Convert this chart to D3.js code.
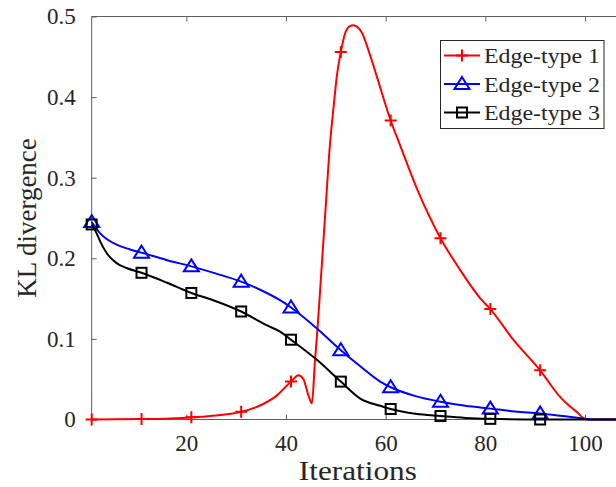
<!DOCTYPE html>
<html>
<head>
<meta charset="utf-8">
<script src="https://cdn.jsdelivr.net/npm/d3@7"></script>
<style>
  html, body { margin: 0; padding: 0; background: #fff; }
  svg { display: block; }
</style>
</head>
<body>
<svg id="chart" width="616" height="487"></svg>
<script>
// ---------- data ----------
const seriesNames = ["Edge-type 1", "Edge-type 2", "Edge-type 3"];
const markerIters = [1, 11, 21, 31, 41, 51, 61, 71, 81, 91];

const edge1Iter = [1, 6, 11, 16, 21, 26, 31, 35, 38, 41, 42.5, 43.5, 44.5, 45.2, 45.8, 46.3, 47, 47.9, 48.8, 49.5, 50.2, 51, 51.8, 52.8, 53.5, 55.2, 56.5, 58.2, 61, 62.9, 66.5, 71, 74.9, 79.3, 81, 85.6, 91, 95, 97, 98.3, 99.7, 100.5, 107];
const edge1Val  = [0, 0.0002, 0.0005, 0.001, 0.0027, 0.005, 0.0095, 0.018, 0.029, 0.047, 0.055, 0.050, 0.030, 0.020, 0.072, 0.111, 0.175, 0.258, 0.34, 0.385, 0.426, 0.456, 0.478, 0.488, 0.489, 0.480, 0.459, 0.426, 0.371, 0.340, 0.283, 0.225, 0.186, 0.148, 0.137, 0.099, 0.061, 0.028, 0.016, 0.0097, 0.0015, 0, 0];

const edge2Iter = [1, 2.7, 5.3, 8.7, 11, 16, 21, 26, 31, 34.8, 38.8, 41, 46.2, 51, 54.9, 58.9, 61, 66, 71, 76, 81, 86, 91, 96, 100, 101, 107];
const edge2Val  = [0.245, 0.231, 0.219, 0.211, 0.207, 0.198, 0.190, 0.181, 0.171, 0.161, 0.148, 0.139, 0.113, 0.086, 0.066, 0.047, 0.040, 0.029, 0.022, 0.017, 0.0135, 0.010, 0.0075, 0.004, 0.001, 0, 0];

const edge3Iter = [1, 2, 2.7, 4, 6, 8, 11, 16, 21, 25.4, 31, 36.1, 38.8, 41, 46.2, 51, 54.9, 58.9, 61, 66, 71, 76, 81, 91, 107];
const edge3Val  = [0.242, 0.231, 0.221, 0.2065, 0.194, 0.188, 0.182, 0.170, 0.157, 0.148, 0.134, 0.117, 0.109, 0.099, 0.074, 0.047, 0.026, 0.017, 0.013, 0.007, 0.0043, 0.002, 0.0008, 0, 0];

const xTicks = [20, 40, 60, 80, 100];
const yTicks = [0, 0.1, 0.2, 0.3, 0.4, 0.5];
const xLabel = "Iterations";
const yLabel = "KL divergence";

const FONT = `"Liberation Serif", "DejaVu Serif", "Noto Serif", serif`;

// ---------- layout ----------
const svg = d3.select("#chart");
const axisColor = "#5e5e5e";
const textColor = "#262626";
const colors = ["#ff0000", "#0000ff", "#000000"];
const markerTypes = ["plus", "triangle", "square"];

const x = d3.scaleLinear().domain([0, 107]).range([86.7, 86.7 + 107 * 4.983]);
const y = d3.scaleLinear().domain([0, 0.5]).range([419.5, 16.5]);
const pL = x(1), pT = y(0.5), pB = y(0), pR = 616;

svg.append("defs").append("clipPath").attr("id", "plotclip")
  .append("rect").attr("x", pL - 10).attr("y", pT - 10).attr("width", pR - pL + 20).attr("height", pB - pT + 20);

// axes
const gx = svg.append("g").attr("transform", `translate(0,${pB})`)
  .call(d3.axisBottom(x).tickValues(xTicks).tickSize(-5).tickPadding(15).tickFormat(d3.format("d")));
const gxt = svg.append("g").attr("transform", `translate(0,${pT})`)
  .call(d3.axisTop(x).tickValues(xTicks).tickSize(-5).tickFormat(""));
const gy = svg.append("g").attr("transform", `translate(${pL},0)`)
  .call(d3.axisLeft(y).tickValues(yTicks).tickSize(-5).tickPadding(16).tickFormat(d => d === 0 ? "0" : d3.format(".1f")(d)));
[gx, gxt, gy].forEach(g => {
  g.attr("font-family", null).attr("font-size", null);
  g.select(".domain").remove();
  g.selectAll(".tick line").attr("stroke", axisColor);
  g.selectAll(".tick text").style("font-family", FONT).style("font-size", "23px").attr("fill", textColor);
});
// axis lines
svg.append("line").attr("x1", pL).attr("x2", pR).attr("y1", pB).attr("y2", pB).attr("stroke", axisColor);
svg.append("line").attr("x1", pL).attr("x2", pR).attr("y1", pT).attr("y2", pT).attr("stroke", axisColor);
svg.append("line").attr("x1", pL).attr("x2", pL).attr("y1", pT).attr("y2", pB).attr("stroke", axisColor);

// labels
svg.append("text").attr("x", (x(60) + x(40)) / 2 + 22).attr("y", 480)
  .attr("text-anchor", "middle").style("font-family", FONT).style("font-size", "27px").attr("fill", textColor)
  .attr("textLength", 118).attr("lengthAdjust", "spacingAndGlyphs").text(xLabel);
svg.append("text").attr("transform", `translate(36,${(pT + pB) / 2}) rotate(-90)`)
  .attr("text-anchor", "middle").style("font-family", FONT).style("font-size", "27px").attr("fill", textColor)
  .text(yLabel);

// series
const series = [
  { iters: edge1Iter, vals: edge1Val },
  { iters: edge2Iter, vals: edge2Val },
  { iters: edge3Iter, vals: edge3Val }
];
const line = d3.line().x(d => x(d[0])).y(d => y(d[1])).curve(d3.curveMonotoneX);
const plot = svg.append("g").attr("clip-path", "url(#plotclip)");

function drawMarker(g, type, cx, cy, color) {
  if (type === "plus") {
    g.append("path").attr("d", `M${cx - 6},${cy}H${cx + 6}M${cx},${cy - 6}V${cy + 6}`)
      .attr("stroke", color).attr("stroke-width", 2).attr("fill", "none");
  } else if (type === "triangle") {
    g.append("path").attr("d", `M${cx},${cy - 7}L${cx + 7.5},${cy + 5}L${cx - 7.5},${cy + 5}Z`)
      .attr("stroke", color).attr("stroke-width", 2).attr("fill", "none");
  } else {
    g.append("rect").attr("x", cx - 5).attr("y", cy - 5).attr("width", 10).attr("height", 10)
      .attr("stroke", color).attr("stroke-width", 2).attr("fill", "none");
  }
}

series.forEach((s, i) => {
  const pts = s.iters.map((t, k) => [t, s.vals[k]]);
  plot.append("path").datum(pts).attr("d", line)
    .attr("fill", "none").attr("stroke", colors[i]).attr("stroke-width", 2);
  const mg = plot.append("g");
  pts.filter(p => markerIters.includes(p[0])).forEach(p => drawMarker(mg, markerTypes[i], x(p[0]), y(p[1]), colors[i]));
});

// legend
const lg = svg.append("g");
lg.append("rect").attr("x", 440.5).attr("y", 40.5).attr("width", 163.5).attr("height", 88)
  .attr("fill", "#fff").attr("stroke", textColor).attr("stroke-width", 1);
const rowsY = [55.5, 84, 112.5];
seriesNames.forEach((name, i) => {
  const ry = rowsY[i];
  lg.append("line").attr("x1", 444).attr("x2", 480).attr("y1", ry).attr("y2", ry)
    .attr("stroke", colors[i]).attr("stroke-width", 2);
  drawMarker(lg, markerTypes[i], 462, ry, colors[i]);
  lg.append("text").attr("x", 484).attr("y", ry).attr("dy", "0.35em")
    .style("font-family", FONT).style("font-size", "22px").attr("fill", textColor)
    .attr("textLength", 116).attr("lengthAdjust", "spacingAndGlyphs").text(name);
});
</script>
</body>
</html>
